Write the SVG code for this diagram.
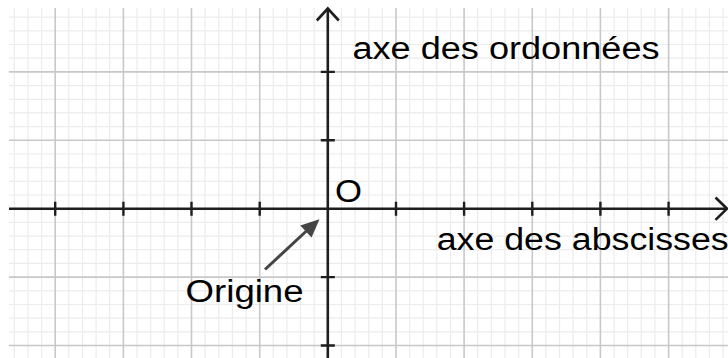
<svg xmlns="http://www.w3.org/2000/svg" width="728" height="358" viewBox="0 0 728 358">
<style>
.minor{stroke:#ececec;stroke-width:1.2;fill:none}
.major{stroke:#c8c8c8;stroke-width:1.6;fill:none}
.axis{stroke:#1e1e1e;stroke-width:2.6;fill:none;stroke-linecap:butt}
.tick{stroke:#1e1e1e;stroke-width:2.4;fill:none}
.head{stroke:#1e1e1e;stroke-width:2.6;fill:none;stroke-linejoin:miter}
.lbl{font-family:"Liberation Sans",Arial,sans-serif;font-size:31px;fill:#000}
.ptr{stroke:#444;stroke-width:3;fill:none}
</style>
<rect x="0" y="0" width="728" height="358" fill="#fff"/>
<g id="grid">
<path class="minor" d="M14.3 8V358M27.9 8V358M41.6 8V358M68.8 8V358M82.5 8V358M96.1 8V358M109.7 8V358M137 8V358M150.6 8V358M164.2 8V358M177.9 8V358M205.1 8V358M218.8 8V358M232.4 8V358M246 8V358M273.3 8V358M286.9 8V358M300.5 8V358M314.2 8V358M341.4 8V358M355.1 8V358M368.7 8V358M382.3 8V358M409.6 8V358M423.2 8V358M436.8 8V358M450.5 8V358M477.7 8V358M491.4 8V358M505 8V358M518.6 8V358M545.9 8V358M559.5 8V358M573.1 8V358M586.8 8V358M614 8V358M627.7 8V358M641.3 8V358M654.9 8V358M682.2 8V358M695.8 8V358M709.4 8V358M723.1 8V358"/>
<path class="minor" d="M9 17.2H728M9 30.9H728M9 44.5H728M9 58.2H728M9 85.6H728M9 99.3H728M9 112.9H728M9 126.6H728M9 154H728M9 167.7H728M9 181.3H728M9 195H728M9 222.4H728M9 236.1H728M9 249.7H728M9 263.4H728M9 290.8H728M9 304.5H728M9 318.1H728M9 331.8H728"/>
<path class="major" d="M55.2 8V358M123.4 8V358M191.5 8V358M259.7 8V358M396 8V358M464.1 8V358M532.3 8V358M600.4 8V358M668.6 8V358"/>
<path class="major" d="M9 71.9H728M9 140.3H728M9 277.1H728M9 345.5H728"/>
</g>
<g id="connectors">
<path id="x-axis" class="axis" d="M9 208.7H726"/>
<path id="y-axis" class="axis" d="M327.8 358V9"/>
<path class="head" d="M316.8 20.5L327.8 8.5L338.8 20.5"/>
<path class="head" d="M715.5 197.5L727 208.7L715.5 219.9"/>
<path class="tick" d="M55.2 201.7V215.7M123.4 201.7V215.7M191.5 201.7V215.7M259.7 201.7V215.7M396 201.7V215.7M464.1 201.7V215.7M532.3 201.7V215.7M600.4 201.7V215.7M668.6 201.7V215.7"/>
<path class="tick" d="M320.8 71.9H334.8M320.8 140.3H334.8M320.8 277.1H334.8M320.8 345.5H334.8"/>
<path id="origin-arrow" class="ptr" d="M265 269.5L308 229.5"/>
<polygon fill="#444" points="319.5,219.2 311.5,237.5 300.3,225.5"/>
</g>
<g id="label-ordonnees"><text class="lbl" x="352.5" y="59" textLength="307" lengthAdjust="spacingAndGlyphs">axe des ordonnées</text></g>
<g id="label-abscisses"><text class="lbl" x="436.7" y="249.5" textLength="292" lengthAdjust="spacingAndGlyphs">axe des abscisses</text></g>
<g id="label-origine"><text class="lbl" x="185.6" y="302.3" textLength="118" lengthAdjust="spacingAndGlyphs">Origine</text></g>
<g id="label-O"><text class="lbl" x="335" y="201.7" textLength="27" lengthAdjust="spacingAndGlyphs">O</text></g>
</svg>
